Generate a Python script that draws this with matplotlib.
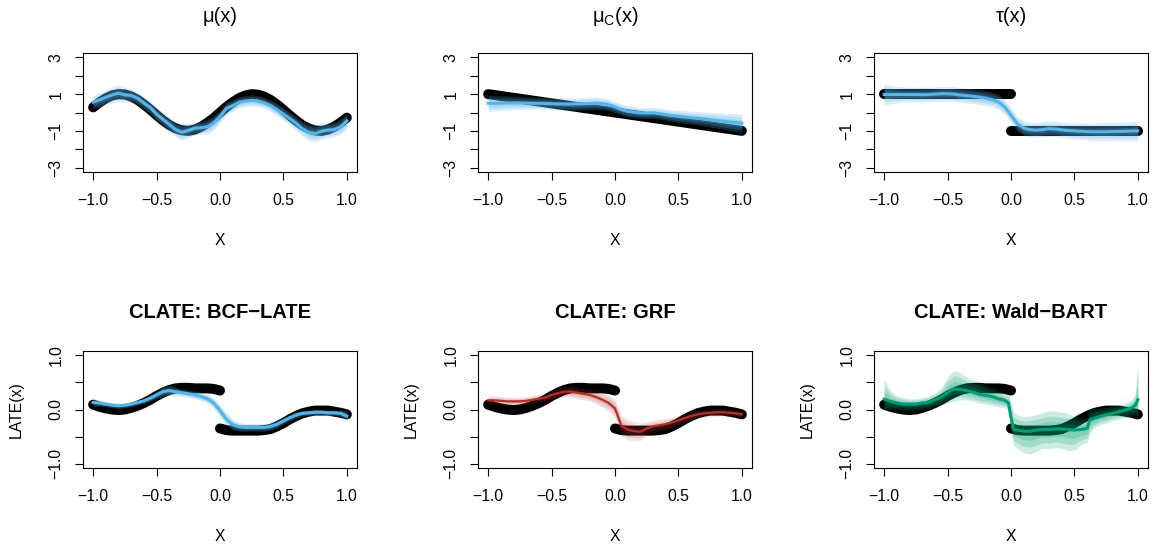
import numpy as np
import matplotlib
matplotlib.use("Agg")
import matplotlib.pyplot as plt

plt.rcParams["font.family"] = ["Liberation Sans", "DejaVu Sans"]

# ── grid and data ───────────────────────────────────────────────────────
grid = [-1.00, -0.95, -0.90, -0.85, -0.80, -0.75, -0.70, -0.65, -0.60, -0.55,
        -0.50, -0.45, -0.40, -0.35, -0.30, -0.25, -0.20, -0.15, -0.10, -0.05,
        0.00, 0.05, 0.10, 0.15, 0.20, 0.25, 0.30, 0.35, 0.40, 0.45,
        0.50, 0.55, 0.60, 0.65, 0.70, 0.75, 0.80, 0.85, 0.90, 0.95, 1.00]
half_left = grid[:21]
half_right = grid[20:]

# mu(x)
mu_true = [0.28, 0.55, 0.77, 0.93, 1.00, 0.98, 0.87, 0.69, 0.44, 0.16,
           -0.14, -0.43, -0.68, -0.86, -0.97, -1.00, -0.93, -0.78, -0.56, -0.30,
           0.00, 0.30, 0.56, 0.78, 0.93, 1.00, 0.97, 0.86, 0.68, 0.43,
           0.14, -0.16, -0.44, -0.69, -0.87, -0.98, -1.00, -0.93, -0.77, -0.55, -0.28]
mu_mean = [0.56, 0.69, 0.83, 0.96, 1.05, 0.96, 0.93, 0.78, 0.52, 0.28,
           -0.09, -0.37, -0.65, -0.93, -1.08, -0.98, -0.85, -0.83, -0.78, -0.56,
           -0.22, 0.22, 0.37, 0.56, 0.62, 0.66, 0.62, 0.52, 0.37, 0.15,
           -0.09, -0.33, -0.59, -0.89, -1.08, -1.15, -1.02, -0.96, -0.93, -0.78, -0.46]
mu_hw = [0.35, 0.40, 0.40, 0.45, 0.45, 0.40, 0.35, 0.35, 0.35, 0.35,
         0.35, 0.35, 0.40, 0.40, 0.45, 0.40, 0.35, 0.35, 0.40, 0.40,
         0.35, 0.35, 0.35, 0.30, 0.30, 0.30, 0.30, 0.30, 0.30, 0.35,
         0.35, 0.35, 0.35, 0.40, 0.45, 0.45, 0.45, 0.40, 0.40, 0.40, 0.45]

# mu_C(x)
muc_x = [-1.0, 1.0]
muc_true = [1.0, -1.0]
muc_mean = [0.50, 0.50, 0.51, 0.52, 0.52, 0.52, 0.51, 0.50, 0.50, 0.49,
            0.48, 0.47, 0.46, 0.46, 0.47, 0.48, 0.49, 0.50, 0.48, 0.42,
            0.30, 0.16, 0.07, 0.02, -0.02, -0.03, -0.02, -0.06, -0.12, -0.17,
            -0.21, -0.25, -0.28, -0.31, -0.35, -0.39, -0.43, -0.47, -0.51, -0.55, -0.59]
muc_hw = [0.45, 0.42, 0.40, 0.38, 0.36, 0.35, 0.34, 0.33, 0.32, 0.32,
          0.32, 0.32, 0.33, 0.33, 0.33, 0.34, 0.34, 0.34, 0.33, 0.32,
          0.30, 0.30, 0.30, 0.30, 0.30, 0.30, 0.30, 0.30, 0.31, 0.32,
          0.33, 0.34, 0.35, 0.36, 0.38, 0.40, 0.42, 0.44, 0.46, 0.48, 0.50]

# tau(x)
tau_left_x, tau_left = [-1.0, 0.0], [1.0, 1.0]
tau_right_x, tau_right = [0.0, 1.0], [-1.0, -1.0]
tau_mean = [0.98, 0.98, 0.98, 0.98, 0.98, 0.98, 0.97, 0.98, 1.00, 1.02,
            1.02, 1.00, 0.95, 0.92, 0.88, 0.84, 0.78, 0.70, 0.58, 0.30,
            -0.15, -0.62, -0.85, -0.94, -0.96, -0.93, -0.88, -0.90, -0.95, -0.98,
            -1.00, -1.02, -1.04, -1.05, -1.05, -1.05, -1.04, -1.03, -1.02, -1.01, -1.00]
tau_hw = [0.60, 0.50, 0.45, 0.42, 0.40, 0.40, 0.40, 0.40, 0.40, 0.40,
          0.40, 0.40, 0.40, 0.40, 0.40, 0.40, 0.40, 0.40, 0.40, 0.40,
          0.40, 0.40, 0.40, 0.40, 0.40, 0.42, 0.42, 0.42, 0.42, 0.42,
          0.44, 0.45, 0.46, 0.48, 0.50, 0.50, 0.50, 0.50, 0.50, 0.50, 0.55]

# true CLATE (same in the three bottom panels)
late_left = [0.09, 0.05, 0.02, 0.00, -0.01, 0.00, 0.03, 0.07, 0.12, 0.18,
             0.25, 0.31, 0.36, 0.39, 0.40, 0.40, 0.39, 0.39, 0.39, 0.38, 0.35]
late_right = [-0.35, -0.38, -0.39, -0.39, -0.39, -0.39, -0.39, -0.38, -0.36, -0.31,
              -0.25, -0.18, -0.12, -0.07, -0.04, -0.02, -0.02, -0.02, -0.04, -0.06, -0.09]

# BCF-LATE
bcf_mean = [0.13, 0.12, 0.10, 0.08, 0.07, 0.08, 0.10, 0.13, 0.16, 0.21,
            0.27, 0.33, 0.35, 0.33, 0.31, 0.29, 0.27, 0.24, 0.20, 0.12,
            -0.02, -0.18, -0.28, -0.32, -0.33, -0.33, -0.33, -0.33, -0.31, -0.27,
            -0.21, -0.15, -0.10, -0.07, -0.06, -0.05, -0.05, -0.06, -0.06, -0.07, -0.12]
bcf_hw = [0.07, 0.06, 0.05, 0.05, 0.05, 0.05, 0.05, 0.05, 0.05, 0.06,
          0.07, 0.09, 0.10, 0.08, 0.07, 0.07, 0.07, 0.08, 0.08, 0.10,
          0.12, 0.12, 0.10, 0.08, 0.07, 0.07, 0.07, 0.07, 0.07, 0.07,
          0.06, 0.06, 0.06, 0.05, 0.05, 0.05, 0.05, 0.05, 0.05, 0.06, 0.10]

# GRF
grf_mean = [0.17, 0.17, 0.16, 0.15, 0.15, 0.15, 0.16, 0.18, 0.20, 0.22,
            0.27, 0.30, 0.33, 0.33, 0.31, 0.29, 0.27, 0.23, 0.18, 0.12,
            0.02, -0.30, -0.37, -0.40, -0.41, -0.35, -0.31, -0.29, -0.27, -0.24,
            -0.20, -0.16, -0.12, -0.09, -0.07, -0.06, -0.05, -0.05, -0.06, -0.07, -0.09]
grf_hw = [0.08, 0.08, 0.08, 0.08, 0.08, 0.08, 0.08, 0.08, 0.08, 0.08,
          0.09, 0.09, 0.10, 0.11, 0.11, 0.11, 0.12, 0.13, 0.14, 0.15,
          0.17, 0.19, 0.19, 0.18, 0.16, 0.13, 0.11, 0.11, 0.11, 0.10,
          0.10, 0.09, 0.09, 0.08, 0.08, 0.07, 0.07, 0.07, 0.07, 0.07, 0.07]

# Wald-BART
wald_x = [-1.0, -0.95, -0.9, -0.85, -0.8, -0.75, -0.7, -0.65, -0.6, -0.55,
          -0.5, -0.45, -0.4, -0.35, -0.3, -0.25, -0.2, -0.15, -0.1, -0.05,
          -0.02, 0.0, 0.02, 0.05, 0.1, 0.15, 0.2, 0.25, 0.3, 0.35,
          0.4, 0.45, 0.5, 0.55, 0.6, 0.62, 0.65, 0.7, 0.75, 0.8,
          0.85, 0.9, 0.95, 0.98, 1.0]
wald_mean = [0.19, 0.15, 0.12, 0.10, 0.10, 0.10, 0.12, 0.13, 0.18, 0.23,
             0.31, 0.38, 0.37, 0.35, 0.32, 0.28, 0.26, 0.24, 0.20, 0.17,
             0.12, -0.15, -0.37, -0.38, -0.40, -0.40, -0.38, -0.37, -0.37, -0.36,
             -0.36, -0.37, -0.38, -0.37, -0.35, -0.20, -0.17, -0.13, -0.10, -0.07,
             -0.04, -0.01, 0.03, 0.08, 0.18]
wald_hi = [0.55, 0.35, 0.25, 0.22, 0.20, 0.20, 0.22, 0.25, 0.30, 0.40,
           0.60, 0.72, 0.68, 0.60, 0.55, 0.50, 0.45, 0.40, 0.35, 0.30,
           0.28, 0.15, -0.05, -0.10, -0.13, -0.12, -0.10, -0.05, -0.02, -0.03,
           -0.05, -0.08, -0.12, -0.15, -0.15, 0.00, 0.02, 0.02, 0.04, 0.06,
           0.08, 0.12, 0.18, 0.30, 0.90]
wald_lo = [-0.04, 0.00, 0.00, -0.01, -0.01, -0.01, 0.00, 0.01, 0.05, 0.08,
           0.12, 0.15, 0.18, 0.18, 0.15, 0.12, 0.10, 0.08, 0.05, 0.03,
           0.00, -0.45, -0.65, -0.72, -0.80, -0.82, -0.78, -0.72, -0.72, -0.70,
           -0.72, -0.76, -0.75, -0.65, -0.60, -0.45, -0.35, -0.28, -0.25, -0.20,
           -0.18, -0.15, -0.12, -0.10, -0.20]

# ticks
x_ticks = [-1.0, -0.5, 0.0, 0.5, 1.0]
x_ticklabels = ["\u22121.0", "\u22120.5", "0.0", "0.5", "1.0"]
top_yticks = [-3, -2, -1, 0, 1, 2, 3]
top_yticklabels = ["\u22123", "", "\u22121", "", "1", "", "3"]
bot_yticks = [-1.0, -0.5, 0.0, 0.5, 1.0]
bot_yticklabels = ["\u22121.0", "", "0.0", "", "1.0"]

BLUE = "#56B4E9"
RED = "#B2302A"
GREEN = "#009E73"
levels = [1.0, 0.7, 0.4]   # nested interval layers (outer -> inner)
FS = 11.3      # axis text
FS_MAIN = 14.5  # panel titles


def style(ax, top):
    ax.set_xlim(-1.08, 1.08)
    lim = 3.24 if top else 1.08
    ax.set_ylim(-lim, lim)
    ax.set_xticks(x_ticks)
    ax.set_xticklabels(x_ticklabels)
    if top:
        ax.set_yticks(top_yticks)
        ax.set_yticklabels(top_yticklabels)
    else:
        ax.set_yticks(bot_yticks)
        ax.set_yticklabels(bot_yticklabels)
    ax.tick_params(axis="both", direction="out", length=6, width=0.8,
                   labelsize=FS, color="black")
    ax.tick_params(axis="x", pad=9)
    ax.tick_params(axis="y", pad=8, labelrotation=90)
    for lab in ax.get_yticklabels():
        lab.set_va("center")
    for sp in ax.spines.values():
        sp.set_linewidth(0.8)
    h = 119 if top else 117
    ax.text(0.5, -68.5 / h, "X", transform=ax.transAxes, ha="center",
            va="center", fontsize=FS)


def truth(ax, xs, ys):
    ax.plot(xs, ys, color="black", lw=7.2, solid_capstyle="round",
            solid_joinstyle="round", zorder=1)


def bands(ax, xs, mean, lo, hi, color, alpha, lw):
    m = np.asarray(mean)
    lo = np.asarray(lo)
    hi = np.asarray(hi)
    for f in levels:
        ax.fill_between(xs, m + f * (lo - m), m + f * (hi - m),
                        color=color, alpha=alpha, lw=0, zorder=2)
    ax.plot(xs, mean, color=color, lw=lw, zorder=3)


fig = plt.figure(figsize=(11.54, 5.48), dpi=100)
lefts = [83 / 1154, 478 / 1154, 874 / 1154]
w = 274 / 1154
top_b, top_h = 1 - 172 / 548, 119 / 548
bot_b, bot_h = 1 - 468 / 548, 117 / 548

top_titles = ["\u03bc(x)", "\u03bc$_\\mathregular{C}$(x)", "\u03c4(x)"]
bot_titles = ["CLATE: BCF\u2212LATE", "CLATE: GRF", "CLATE: Wald\u2212BART"]

axes_top = [fig.add_axes([l, top_b, w, top_h]) for l in lefts]
axes_bot = [fig.add_axes([l, bot_b, w, bot_h]) for l in lefts]

# top row
ax = axes_top[0]
truth(ax, grid, mu_true)
mm = np.asarray(mu_mean); hw = np.asarray(mu_hw)
bands(ax, grid, mm, mm - hw, mm + hw, BLUE, 0.22, 2.2)

ax = axes_top[1]
truth(ax, muc_x, muc_true)
mm = np.asarray(muc_mean); hw = np.asarray(muc_hw)
bands(ax, grid, mm, mm - hw, mm + hw, BLUE, 0.22, 2.2)

ax = axes_top[2]
truth(ax, tau_left_x, tau_left)
truth(ax, tau_right_x, tau_right)
mm = np.asarray(tau_mean); hw = np.asarray(tau_hw)
bands(ax, grid, mm, mm - hw, mm + hw, BLUE, 0.22, 2.2)

for ax, t in zip(axes_top, top_titles):
    style(ax, True)
    ax.text(0.5, 1 + 36 / 119, t, transform=ax.transAxes, ha="center",
            va="center", fontsize=FS_MAIN)

# bottom row
for ax in axes_bot:
    truth(ax, half_left, late_left)
    truth(ax, half_right, late_right)

mm = np.asarray(bcf_mean); hw = np.asarray(bcf_hw)
bands(axes_bot[0], grid, mm, mm - hw, mm + hw, BLUE, 0.22, 2.2)
mm = np.asarray(grf_mean); hw = np.asarray(grf_hw)
bands(axes_bot[1], grid, mm, mm - hw, mm + hw, RED, 0.13, 1.6)
bands(axes_bot[2], wald_x, wald_mean, wald_lo, wald_hi, GREEN, 0.2, 2.2)

for ax, t in zip(axes_bot, bot_titles):
    style(ax, False)
    ax.text(0.5, 1 + 38.5 / 117, t, transform=ax.transAxes, ha="center",
            va="center", fontsize=FS_MAIN, fontweight="bold")
    ax.text(-67 / 274, 0.5, "LATE(x)", transform=ax.transAxes, ha="center",
            va="center", rotation=90, fontsize=FS)

fig.savefig("out.png", dpi=100)
